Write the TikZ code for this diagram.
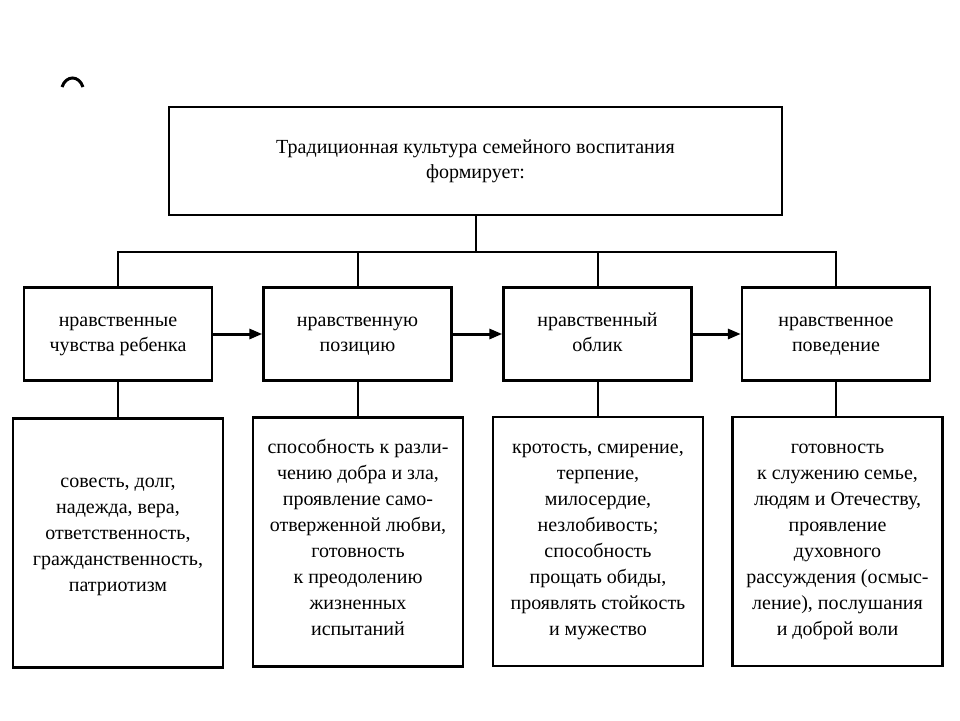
\documentclass[tikz,border=0pt]{standalone}
\usepackage{fontspec}
\setmainfont{Liberation Serif}
\usepackage{tikz}
\usetikzlibrary{arrows.meta,positioning}
\tikzset{
  box/.style={draw,line width=2.4pt,align=center,font=\fontsize{20}{25}\selectfont,inner sep=0pt},
  topbox/.style={box,minimum width=613pt,minimum height=108pt},
  midbox/.style={box,minimum width=188pt,minimum height=93pt},
  lowbox/.style={box,font=\fontsize{20}{26}\selectfont,minimum width=210pt,minimum height=249pt},
  conn/.style={line width=2pt},
  arr/.style={line width=3pt,-{Triangle[length=13pt,width=10pt]}}
}
\begin{document}
\begin{tikzpicture}[x=1pt,y=-1pt]
        \useasboundingbox[fill=white] (0,0) rectangle (960,720);
        \draw[line width=3pt] (62,87) .. controls (66,75) and (79,75) .. (83,87);
        \node[topbox] (top) at (475.5,161) {\strut Традиционная культура семейного воспитания\\формирует:\strut};
        \node[midbox] (feel) at (118,334) {\strut нравственные\\чувства ребенка\strut};
        \node[midbox] (pos) at (357.5,334) {\strut нравственную\\позицию\strut};
        \node[midbox] (look) at (597.5,334) {\strut нравственный\\облик\strut};
        \node[midbox] (act) at (836,334) {\strut нравственное\\поведение\strut};
        \node[lowbox] (feeltxt) at (118,543) {совесть, долг,\\надежда, вера,\\ответственность,\\гражданственность,\\патриотизм\\[-10pt]};
        \node[lowbox] (postxt) at (358,542) {способность к разли-\\чению добра и зла,\\проявление само-\\отверженной любви,\\готовность\\к преодолению\\жизненных\\испытаний\\[-17pt]};
        \node[lowbox] (looktxt) at (598,541.5) {кротость, смирение,\\терпение,\\милосердие,\\незлобивость;\\способность\\прощать обиды,\\проявлять стойкость\\и мужество};
        \node[lowbox] (acttxt) at (837.5,541.5) {готовность\\к служению семье,\\людям и Отечеству,\\проявление\\духовного\\рассуждения (осмыс-\\ление), послушания\\и доброй воли};
        \draw[conn] (top.south) -- ++(0,36) coordinate (bus);
        \foreach \n in {feel,pos,look,act} {
          \draw[conn] (bus) -| (\n.north);
          \draw[conn] (\n.south) -- (\n.south |- \n txt.north);
        }
        \draw[arr] (feel.east) -- (pos.west);
        \draw[arr] (pos.east) -- (look.west);
        \draw[arr] (look.east) -- (act.west);
      \end{tikzpicture}
\end{document}
